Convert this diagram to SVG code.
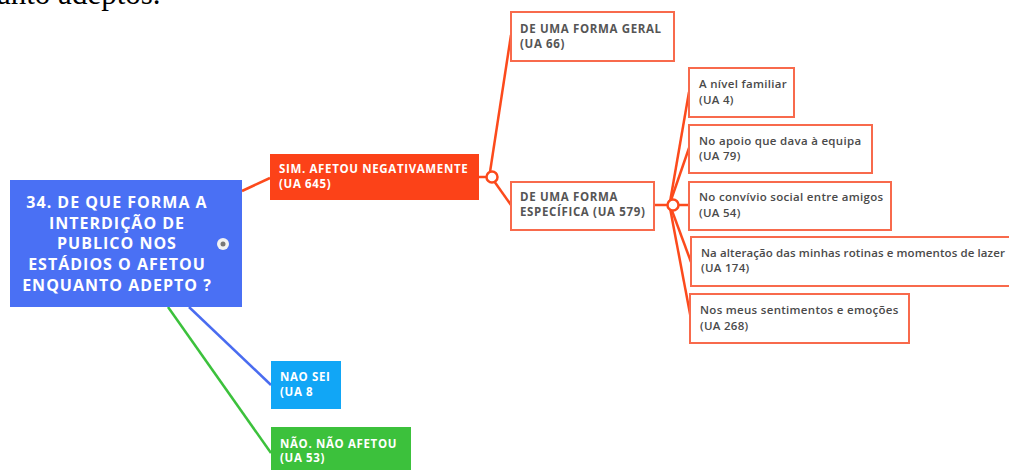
<svg xmlns="http://www.w3.org/2000/svg" width="1009" height="470" viewBox="0 0 1009 470">
<style>
.bg{fill:#ffffff}
.root{fill:#4a70f4}
.red{fill:#fc4218}
.sub{fill:#ffffff;stroke:#f86a4c;stroke-width:2}
.blue2{fill:#11a6f6}
.green{fill:#3cc13c}
.wt{font-family:"Open Sans",Lato,"Liberation Sans",sans-serif;font-weight:700;fill:#ffffff}
.rt{font-size:16px;text-anchor:middle;letter-spacing:1px}
.nt{font-size:11.5px;letter-spacing:0.65px}
.dt{font-family:"Open Sans",Lato,"Liberation Sans",sans-serif;font-weight:700;fill:#555555;font-size:11.5px;letter-spacing:0.65px}
.lt{font-family:"Open Sans",Lato,"Liberation Sans",sans-serif;font-weight:600;fill:#4a4a4a;font-size:11.5px;letter-spacing:0.3px}
.cr{stroke:#fc4a1c;stroke-width:2.5;fill:none}
.cb{stroke:#4a6cf0;stroke-width:2.5;fill:none}
.cg{stroke:#3cc13c;stroke-width:2.5;fill:none}
.knob{fill:#ffffff;stroke:#fc4a1c;stroke-width:2.5}
</style>
<rect class="bg" x="0" y="0" width="1009" height="470"/>
<text x="-3" y="4" font-family="Liberation Serif,serif" font-size="31" fill="#000">anto adeptos.</text>

<g id="connectors">
<line class="cr" x1="242" y1="191" x2="270" y2="178"/>
<line class="cr" x1="479" y1="177" x2="492" y2="177"/>
<line class="cr" x1="490" y1="172" x2="511" y2="35"/>
<line class="cr" x1="494" y1="181" x2="511" y2="205"/>
<line class="cr" x1="654" y1="205" x2="673" y2="205"/>
<line class="cr" x1="670" y1="202" x2="689" y2="92"/>
<line class="cr" x1="670" y1="203" x2="689" y2="148"/>
<line class="cr" x1="673" y1="205" x2="689" y2="205"/>
<line class="cr" x1="671" y1="208" x2="691" y2="262"/>
<line class="cr" x1="670" y1="208" x2="691" y2="319"/>
<line class="cb" x1="189" y1="307" x2="271" y2="385"/>
<line class="cg" x1="168" y1="307" x2="271" y2="453"/>
<circle class="knob" cx="492" cy="177" r="5.5"/>
<circle class="knob" cx="673" cy="205" r="5.5"/>
</g>

<g id="root">
<rect class="root" x="10" y="180" width="232" height="127"/>
<text class="wt rt" x="117" y="208">34. DE QUE FORMA A</text>
<text class="wt rt" x="117" y="229">INTERDIÇÃO DE</text>
<text class="wt rt" x="117" y="249">PUBLICO NOS</text>
<text class="wt rt" x="117" y="270">ESTÁDIOS O AFETOU</text>
<text class="wt rt" x="117" y="291">ENQUANTO ADEPTO ?</text>
<circle cx="223" cy="244" r="6" fill="#f2f2f2"/>
<circle cx="223" cy="244" r="2.5" fill="#777777"/>
</g>

<g id="sim">
<rect class="red" x="270" y="154" width="209" height="46"/>
<text class="wt nt" x="279" y="173">SIM. AFETOU NEGATIVAMENTE</text>
<text class="wt nt" x="279" y="188">(UA 645)</text>
</g>

<g id="geral">
<rect class="sub" x="511" y="12" width="163" height="49"/>
<text class="dt" x="520" y="33">DE UMA FORMA GERAL</text>
<text class="dt" x="520" y="48">(UA 66)</text>
</g>

<g id="especifica">
<rect class="sub" x="511" y="182" width="143" height="48"/>
<text class="dt" x="520" y="201">DE UMA FORMA</text>
<text class="dt" x="520" y="216">ESPECÍFICA (UA 579)</text>
</g>

<g id="familiar">
<rect class="sub" x="689" y="68" width="105" height="49"/>
<text class="lt" x="699" y="88">A nível familiar</text>
<text class="lt" x="699" y="104">(UA 4)</text>
</g>

<g id="apoio">
<rect class="sub" x="689" y="125" width="183" height="48"/>
<text class="lt" x="699" y="145">No apoio que dava à equipa</text>
<text class="lt" x="699" y="160">(UA 79)</text>
</g>

<g id="convivio">
<rect class="sub" x="689" y="182" width="202" height="48"/>
<text class="lt" x="699" y="201">No convívio social entre amigos</text>
<text class="lt" x="699" y="217">(UA 54)</text>
</g>

<g id="alteracao">
<rect class="sub" x="691" y="237" width="330" height="49"/>
<text class="lt" x="701" y="257" style="letter-spacing:0.1px">Na alteração das minhas rotinas e momentos de lazer</text>
<text class="lt" x="701" y="272">(UA 174)</text>
</g>

<g id="sentimentos">
<rect class="sub" x="690" y="294" width="219" height="49"/>
<text class="lt" x="700" y="314">Nos meus sentimentos e emoções</text>
<text class="lt" x="700" y="330">(UA 268)</text>
</g>

<g id="naosei">
<rect class="blue2" x="271" y="361" width="70" height="48"/>
<text class="wt nt" x="280" y="381">NAO SEI</text>
<text class="wt nt" x="280" y="396">(UA 8</text>
</g>

<g id="naoafetou">
<rect class="green" x="271" y="427" width="140" height="50"/>
<text class="wt nt" x="280" y="448">NÃO. NÃO AFETOU</text>
<text class="wt nt" x="280" y="462">(UA 53)</text>
</g>
</svg>
